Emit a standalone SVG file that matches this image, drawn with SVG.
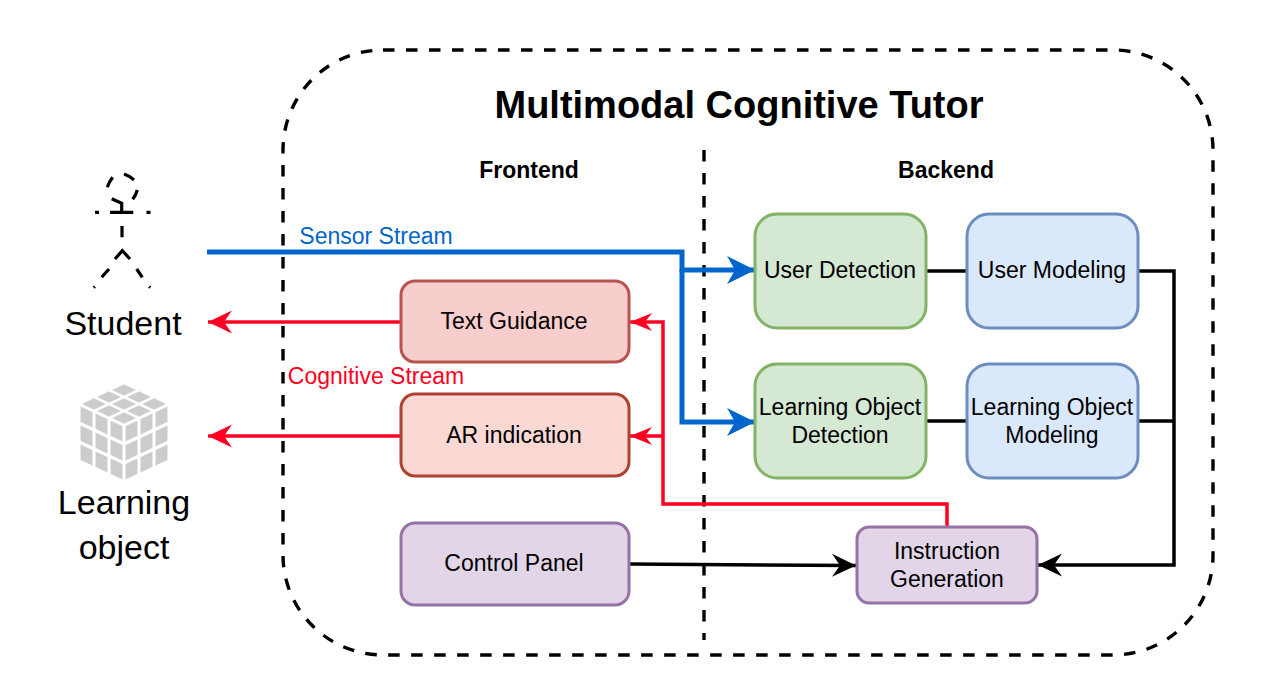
<svg xmlns="http://www.w3.org/2000/svg" width="1276" height="700" viewBox="0 0 1276 700">
<style>
text{font-family:"Liberation Sans",Arial,sans-serif;fill:#000;text-anchor:middle}
.n{font-size:23px}
.b{font-size:23px;font-weight:bold}
.big{font-size:34px}
.box{stroke-width:3}
.dash{fill:none;stroke:#000;stroke-width:3.4;stroke-dasharray:11.500 11.500}
.bl{fill:none;stroke:#0066cc;stroke-width:5}
.rd{fill:none;stroke:#ff0022;stroke-width:3.5}
.bk{fill:none;stroke:#000;stroke-width:3.5}
#face rect{fill:#cccccc;stroke:#fff;stroke-width:.6;vector-effect:non-scaling-stroke}
</style>
<defs>
<marker id="ab" markerUnits="userSpaceOnUse" markerWidth="30" markerHeight="30" refX="28" refY="15" orient="auto"><path d="M0 1L28 15L0 29L8 15Z" fill="#0066cc"/></marker>
<marker id="ar" markerUnits="userSpaceOnUse" markerWidth="26" markerHeight="26" refX="24" refY="13" orient="auto"><path d="M0 1.500L24 13L0 24.500L8 13Z" fill="#ff0022"/></marker>
<marker id="as" markerUnits="userSpaceOnUse" markerWidth="24" markerHeight="24" refX="22" refY="12" orient="auto"><path d="M0 3L22 12L0 21L7 12Z" fill="#ff0022"/></marker>
<marker id="ak" markerUnits="userSpaceOnUse" markerWidth="26" markerHeight="26" refX="24" refY="13" orient="auto"><path d="M0 1.500L24 13L0 24.500L8 13Z" fill="#000"/></marker>
<g id="face">
<rect x="0.08" y="0.08" width="0.84" height="0.84"/><rect x="1.08" y="0.08" width="0.84" height="0.84"/><rect x="2.08" y="0.08" width="0.84" height="0.84"/>
<rect x="0.08" y="1.08" width="0.84" height="0.84"/><rect x="1.08" y="1.08" width="0.84" height="0.84"/><rect x="2.08" y="1.08" width="0.84" height="0.84"/>
<rect x="0.08" y="2.08" width="0.84" height="0.84"/><rect x="1.08" y="2.08" width="0.84" height="0.84"/><rect x="2.08" y="2.08" width="0.84" height="0.84"/>
</g>
</defs>
<rect width="1276" height="700" fill="#fff"/>
<rect id="tutor" x="283" y="50" width="930" height="605" rx="100" ry="100" class="dash"/>
<line id="divider" x1="704" y1="150" x2="704" y2="640" class="dash"/>
<text x="739" y="118" style="font-size:38px;font-weight:bold">Multimodal Cognitive Tutor</text>
<text x="529" y="178" class="b">Frontend</text>
<text x="946" y="178" class="b">Backend</text>

<g id="connectors">
<path class="bl" d="M207 252H682V270H755" marker-end="url(#ab)"/>
<path class="bl" d="M682 270V422H755" marker-end="url(#ab)"/>
<path class="rd" d="M400 322H208" marker-end="url(#ar)"/>
<path class="rd" d="M400 436H208" marker-end="url(#ar)"/>
<path class="rd" d="M947 526V504H663V322H630" marker-end="url(#as)"/>
<path class="rd" d="M663 436H630" marker-end="url(#as)"/>
<path class="bk" d="M629 564L856 565.500" marker-end="url(#ak)"/>
<path class="bk" d="M926 271H967"/>
<path class="bk" d="M926 421H967"/>
<path class="bk" d="M1138 271H1174V565H1038" marker-end="url(#ak)"/>
<path class="bk" d="M1138 421H1174"/>
</g>

<g id="student">
<path fill="none" stroke="#000" stroke-width="3.200" d="M107.300 187.300Q109 182 112.700 177.300M124 174Q130 176 134 180M137.300 190Q136 195 132.700 199.300M111.700 198.700L121.700 203.300V211.700M110 212.300H133.300M95 212.300H99M146.500 212.300H150.500M122 226V237.300M115 259L122.300 250.700L130 259M109 269L101.700 277.300M136.700 269L142.300 277.300"/>
<path fill="none" stroke="#000" stroke-width="1.500" d="M93.300 286L95.300 288.300M150.700 286L148.700 288.300"/>
<text x="123" y="335" class="big">Student</text>
</g>
<g id="learning-object">
<use href="#face" transform="matrix(15 -7 15 7 79 404)"/>
<use href="#face" transform="matrix(15 7 0 19 79 404)"/>
<use href="#face" transform="matrix(15 -7 0 19 124 425)"/>
<text x="124" y="514" class="big">Learning</text>
<text x="124" y="559" class="big">object</text>
</g>

<g id="text-guidance"><rect class="box" x="401" y="281" width="228" height="81" rx="14" fill="#f8cecc" stroke="#b85450"/><text x="514" y="329" class="n">Text Guidance</text></g>
<g id="ar-indication"><rect class="box" x="401" y="394" width="228" height="82" rx="14" fill="#fad9d5" stroke="#ae4132"/><text x="514" y="443" class="n">AR indication</text></g>
<g id="control-panel"><rect class="box" x="401" y="523" width="228" height="82" rx="14" fill="#e1d5e7" stroke="#9673a6"/><text x="514" y="571" class="n">Control Panel</text></g>
<g id="user-detection"><rect class="box" x="755" y="214" width="171" height="114" rx="22" fill="#d5e8d4" stroke="#82b366"/><text x="840" y="278" class="n">User Detection</text></g>
<g id="user-modeling"><rect class="box" x="967" y="214" width="171" height="114" rx="22" fill="#dae8fc" stroke="#6c8ebf"/><text x="1052" y="278" class="n">User Modeling</text></g>
<g id="lo-detection"><rect class="box" x="755" y="364" width="171" height="114" rx="22" fill="#d5e8d4" stroke="#82b366"/><text x="840" y="415" class="n">Learning Object</text><text x="840" y="443" class="n">Detection</text></g>
<g id="lo-modeling"><rect class="box" x="967" y="364" width="171" height="114" rx="22" fill="#dae8fc" stroke="#6c8ebf"/><text x="1052" y="415" class="n">Learning Object</text><text x="1052" y="443" class="n">Modeling</text></g>
<g id="instruction-generation"><rect class="box" x="857" y="527" width="180" height="76" rx="12" fill="#e1d5e7" stroke="#9673a6"/><text x="947" y="559" class="n">Instruction</text><text x="947" y="587" class="n">Generation</text></g>

<text x="376" y="244" class="n" style="fill:#0066cc">Sensor Stream</text>
<text x="376" y="384" class="n" style="fill:#ff0022">Cognitive Stream</text>
</svg>
